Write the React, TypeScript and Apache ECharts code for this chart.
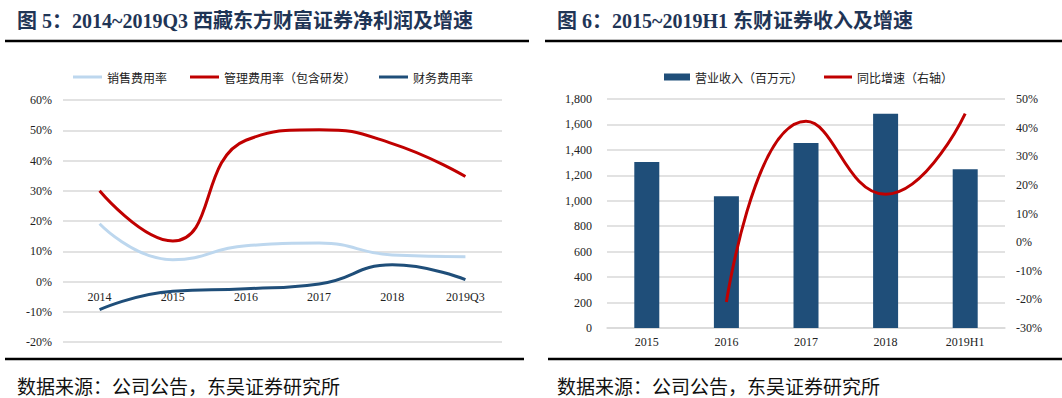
import React, { useEffect, useRef } from "react";
import * as echarts from "echarts";

const leftCategories = ["2014", "2015", "2016", "2017", "2018", "2019Q3"];
const salesRate = [19.1, 7.2, 11.8, 12.7, 8.8, 8.2];
const mgmtRate = [30.0, 13.4, 46.7, 50.2, 45.6, 34.7];
const finRate = [-9.3, -3.2, -2.4, -0.8, 5.5, 0.6];

const rightCategories = ["2015", "2016", "2017", "2018", "2019H1"];
const revenue = [1305, 1035, 1455, 1685, 1248];
const revenueGrowth = [null, -20.9, 42.2, 16.7, 44.9];

const SERIF = "'Liberation Serif', 'Times New Roman', 'Noto Sans CJK SC', serif";
const CJK = "'Noto Sans CJK SC', sans-serif";
const TITLE_FONT = "'Liberation Serif', 'Noto Sans CJK SC', serif";

export default function App() {
  const ref = useRef<HTMLDivElement>(null);
  useEffect(() => {
    if (!ref.current) return;
    const chart = echarts.init(ref.current, undefined, { renderer: "svg" });
    const axisLabel = { fontFamily: SERIF, fontSize: 12, color: "#222" };
    const option: any = {
      animation: false,
      backgroundColor: "#fff",
      graphic: [
        { type: "text", x: 17, y: 21, style: { text: "图 5：2014~2019Q3 西藏东方财富证券净利润及增速", fontFamily: TITLE_FONT, fontWeight: "bold", fontSize: 20, fill: "#1f3556", verticalAlign: "middle" } },
        { type: "text", x: 557, y: 21, style: { text: "图 6：2015~2019H1 东财证券收入及增速", fontFamily: TITLE_FONT, fontWeight: "bold", fontSize: 20, fill: "#1f3556", verticalAlign: "middle" } },
        { type: "line", shape: { x1: 5, y1: 41, x2: 529, y2: 41 }, style: { stroke: "#000", lineWidth: 2.5 } },
        { type: "line", shape: { x1: 545, y1: 41, x2: 1062, y2: 41 }, style: { stroke: "#000", lineWidth: 2.5 } },
        { type: "line", shape: { x1: 5, y1: 359, x2: 524, y2: 359 }, style: { stroke: "#000", lineWidth: 2.5 } },
        { type: "line", shape: { x1: 548, y1: 359, x2: 1062, y2: 359 }, style: { stroke: "#000", lineWidth: 2.5 } },
        { type: "text", x: 17, y: 385, style: { text: "数据来源：公司公告，东吴证券研究所", fontFamily: CJK, fontSize: 19, fill: "#111", verticalAlign: "middle" } },
        { type: "text", x: 557, y: 385, style: { text: "数据来源：公司公告，东吴证券研究所", fontFamily: CJK, fontSize: 19, fill: "#111", verticalAlign: "middle" } },
      ],
      legend: [
        {
          left: 68, top: 66, icon: "rect", itemWidth: 29, itemHeight: 3, itemGap: 23,
          textStyle: { fontFamily: CJK, fontSize: 12, color: "#222" },
          data: ["销售费用率", "管理费用率（包含研发）", "财务费用率"],
        },
        {
          left: 659, top: 66, icon: "rect", itemWidth: 26, itemHeight: 7,
          textStyle: { fontFamily: CJK, fontSize: 12, color: "#222" },
          data: ["营业收入（百万元）"],
        },
        {
          left: 819, top: 66, icon: "rect", itemWidth: 28, itemHeight: 3,
          textStyle: { fontFamily: CJK, fontSize: 12, color: "#222" },
          data: ["同比增速（右轴）"],
        },
      ],
      grid: [
        { left: 63, top: 100, width: 439, height: 242 },
        { left: 607, top: 99, width: 398, height: 229 },
      ],
      xAxis: [
        {
          type: "category", gridIndex: 0, data: leftCategories, boundaryGap: true,
          axisLine: { show: false, onZero: false }, axisTick: { show: false },
          axisLabel: { ...axisLabel, margin: -51 },
        },
        {
          type: "category", gridIndex: 1, data: rightCategories, boundaryGap: true,
          axisLine: { show: true, lineStyle: { color: "#d9d9d9", width: 1.5 } }, axisTick: { show: false },
          axisLabel: { ...axisLabel, margin: 8 },
        },
      ],
      yAxis: [
        {
          type: "value", gridIndex: 0, min: -20, max: 60, interval: 10,
          axisLine: { show: false }, axisTick: { show: false },
          axisLabel: { ...axisLabel, margin: 11, formatter: "{value}%" },
          splitLine: { lineStyle: { color: "#d9d9d9", width: 1.5 } },
        },
        {
          type: "value", gridIndex: 1, min: 0, max: 1800, interval: 200,
          axisLine: { show: false }, axisTick: { show: false },
          axisLabel: { ...axisLabel, margin: 15, formatter: (v: number) => v.toLocaleString("en-US") },
          splitLine: { lineStyle: { color: "#d9d9d9", width: 1.5 } },
        },
        {
          type: "value", gridIndex: 1, position: "right", min: -30, max: 50, interval: 10,
          axisLine: { show: false }, axisTick: { show: false },
          axisLabel: { ...axisLabel, margin: 11, formatter: "{value}%" },
          splitLine: { show: false },
        },
      ],
      series: [
        {
          name: "销售费用率", type: "line", xAxisIndex: 0, yAxisIndex: 0, data: salesRate,
          smooth: true, symbol: "none", lineStyle: { color: "#bdd7ee", width: 3 }, itemStyle: { color: "#bdd7ee" },
        },
        {
          name: "管理费用率（包含研发）", type: "line", xAxisIndex: 0, yAxisIndex: 0, data: mgmtRate,
          smooth: true, symbol: "none", lineStyle: { color: "#c00000", width: 3 }, itemStyle: { color: "#c00000" },
        },
        {
          name: "财务费用率", type: "line", xAxisIndex: 0, yAxisIndex: 0, data: finRate,
          smooth: true, symbol: "none", lineStyle: { color: "#1f4e79", width: 3 }, itemStyle: { color: "#1f4e79" },
        },
        {
          name: "营业收入（百万元）", type: "bar", xAxisIndex: 1, yAxisIndex: 1, data: revenue,
          barWidth: 25, itemStyle: { color: "#1f4e79" },
        },
        {
          name: "同比增速（右轴）", type: "line", xAxisIndex: 1, yAxisIndex: 2, data: revenueGrowth,
          smooth: true, symbol: "none", lineStyle: { color: "#c00000", width: 3 }, itemStyle: { color: "#c00000" },
        },
      ],
    };
    chart.setOption(option);
    return () => chart.dispose();
  }, []);
  return (
    <div
      ref={ref}
      style={{ position: "fixed", left: 0, top: 0, width: 1062, height: 398, background: "#fff" }}
    />
  );
}
